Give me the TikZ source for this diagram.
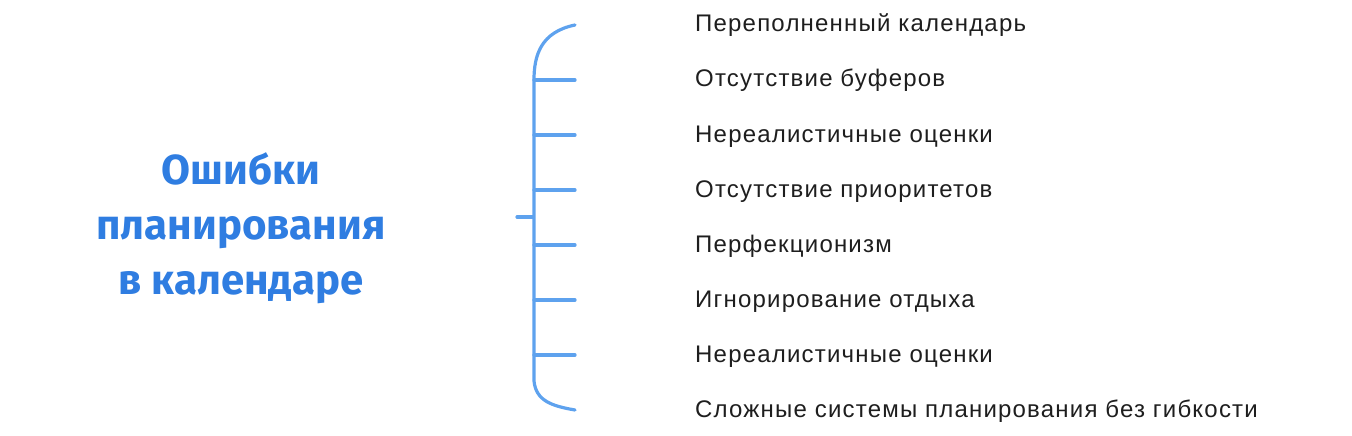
\documentclass[tikz,border=0pt]{standalone}
\usepackage{fontspec}
\setmainfont{Liberation Sans}
\newfontfamily\titlefont{Fira Sans}
\newfontfamily\itemfont[LetterSpace=5]{Liberation Sans}
\usetikzlibrary{positioning,calc}
\definecolor{titleblue}{HTML}{2F7DE1}
\definecolor{braceblue}{HTML}{5EA2EE}
\definecolor{itemgray}{HTML}{1E1E1E}

\begin{document}
\begin{tikzpicture}[x=1pt,y=-1pt]
  \tikzstyle{title}=[font=\titlefont\bfseries\fontsize{42}{55}\selectfont, text=titleblue, align=center]
  \tikzstyle{item}=[anchor=base west, inner sep=0pt, font=\itemfont\fontsize{24}{28}\selectfont, text=itemgray]
  \tikzstyle{brace}=[draw=braceblue, line width=3.2pt, line cap=round]

  \useasboundingbox (0,0) rectangle (1352,436);

  % Заголовок
  \node[title] (title) at (241,228) {Ошибки\\планирования\\в календаре};

  % Пункты
  \node[item] (i1) at (695,32) {Переполненный календарь};
  \node[item] (i2) at (695,87) {Отсутствие буферов};
  \node[item] (i3) at (695,142) {Нереалистичные оценки};
  \node[item] (i4) at (695,197) {Отсутствие приоритетов};
  \node[item] (i5) at (695,252) {Перфекционизм};
  \node[item] (i6) at (695,307) {Игнорирование отдыха};
  \node[item] (i7) at (695,362) {Нереалистичные оценки};
  \node[item] (i8) at (695,417) {Сложные системы планирования без гибкости};

  % Скобка
  \coordinate (k1) at (575,25);
  \coordinate (k2) at (575,80);
  \coordinate (k3) at (575,135);
  \coordinate (k4) at (575,190);
  \coordinate (k5) at (575,245);
  \coordinate (k6) at (575,300);
  \coordinate (k7) at (575,355);
  \coordinate (k8) at (575,410);
  \coordinate (s2) at (534,80);
  \coordinate (s7) at (534,355);
  \coordinate (m0) at (517,217);
  \coordinate (m1) at (533,217);

  \draw[brace] (k1) .. controls (541,32) and (534,55) .. (s2) -- (s7)
    -- (534,381) .. controls (536,401) and (552,406) .. (k8);
  \foreach \n in {2,...,7} \draw[brace] (k\n -| s2) -- (k\n);
  \draw[brace] (m0) -- (m1);
\end{tikzpicture}
\end{document}
